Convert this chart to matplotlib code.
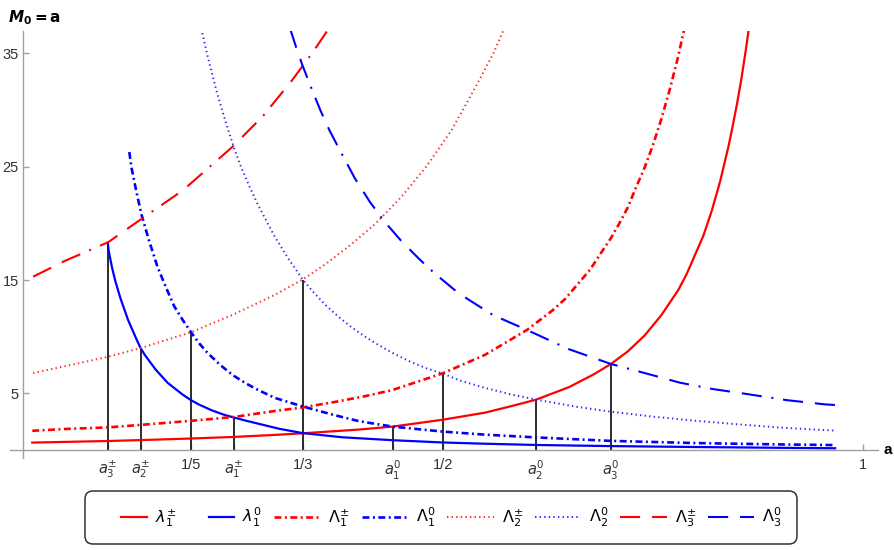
import matplotlib
matplotlib.use("Agg")
import matplotlib.pyplot as plt
from matplotlib.legend_handler import HandlerLine2D

plt.rcParams['font.family'] = ['Liberation Sans', 'DejaVu Sans']
plt.rcParams['mathtext.fontset'] = 'dejavusans'
plt.rcParams['lines.scale_dashes'] = False

# ---------------- data ----------------
# lambda_1^{+-}  (red solid)
lam1pm_a = [0.011, 0.05, 0.101, 0.14, 0.20, 0.251, 0.30, 0.333, 0.40, 0.44, 0.50, 0.55,
            0.58, 0.611, 0.65, 0.68, 0.70, 0.72, 0.74, 0.76, 0.78, 0.79, 0.80, 0.81, 0.82,
            0.83, 0.84, 0.845, 0.85, 0.855, 0.86, 0.865, 0.87]
lam1pm_v = [0.66, 0.72, 0.80, 0.88, 1.02, 1.16, 1.34, 1.48, 1.81, 2.07, 2.68, 3.3,
            3.85, 4.45, 5.55, 6.7, 7.6, 8.7, 10.1, 11.9, 14.1, 15.5, 17.2, 18.9, 21.1,
            23.7, 26.8, 28.6, 30.5, 32.6, 35.0, 37.6, 40.5]

# lambda_1^0  (blue solid)
lam10_a = [0.101, 0.102, 0.106, 0.11, 0.116, 0.125, 0.135, 0.14, 0.145, 0.158, 0.172, 0.19,
           0.20, 0.21, 0.225, 0.24, 0.251, 0.265, 0.28, 0.305, 0.333, 0.38, 0.44, 0.50,
           0.55, 0.611, 0.70, 0.80, 0.90, 0.967]
lam10_v = [18.3, 17.6, 16.1, 14.9, 13.4, 11.5, 9.8, 9.0, 8.4, 7.1, 5.95, 4.9,
           4.4, 4.0, 3.5, 3.1, 2.88, 2.6, 2.33, 1.88, 1.5, 1.13, 0.87, 0.67,
           0.56, 0.45, 0.35, 0.27, 0.2, 0.16]

# Lambda_1^{+-}  (red dash-dot)
Lam1pm_a = [0.011, 0.05, 0.101, 0.14, 0.20, 0.251, 0.30, 0.333, 0.37, 0.405, 0.44, 0.50,
            0.55, 0.60, 0.63, 0.645, 0.66, 0.675, 0.69, 0.70, 0.71, 0.72, 0.73, 0.74,
            0.75, 0.76, 0.77, 0.78, 0.79]
Lam1pm_v = [1.70, 1.86, 2.0, 2.22, 2.58, 2.92, 3.45, 3.76, 4.23, 4.72, 5.3, 6.78,
            8.4, 10.6, 12.3, 13.3, 14.6, 15.9, 17.6, 18.7, 20.0, 21.4, 23.2, 24.9,
            26.9, 29.2, 31.8, 34.7, 38.1]

# Lambda_1^0  (blue dash-dot)
Lam10_a = [0.1266, 0.129, 0.135, 0.141, 0.15, 0.16, 0.17, 0.18, 0.19, 0.20, 0.21, 0.22,
           0.235, 0.25, 0.265, 0.28, 0.30, 0.333, 0.37, 0.40, 0.44, 0.50, 0.55, 0.61,
           0.70, 0.80, 0.90, 0.967]
Lam10_v = [26.3, 25.0, 22.8, 20.8, 18.5, 16.2, 14.4, 12.7, 11.5, 10.4, 9.4, 8.55,
           7.5, 6.6, 5.9, 5.3, 4.6, 3.85, 3.1, 2.55, 2.07, 1.63, 1.36, 1.12,
           0.81, 0.62, 0.5, 0.44]

# Lambda_2^{+-}  (red dotted)
Lam2pm_a = [0.012, 0.05, 0.1016, 0.14, 0.20, 0.25, 0.30, 0.333, 0.36, 0.39, 0.42, 0.45,
            0.48, 0.51, 0.54, 0.56, 0.58]
Lam2pm_v = [6.8, 7.4, 8.24, 9.0, 10.4, 11.95, 13.7, 15.05, 16.4, 18.1, 20.0, 22.3,
            25.0, 28.2, 32.2, 35.0, 38.4]

# Lambda_2^0  (blue dotted)
Lam20_a = [0.2135, 0.22, 0.23, 0.237, 0.245, 0.252, 0.26, 0.27, 0.28, 0.29, 0.30, 0.315,
           0.333, 0.345, 0.36, 0.375, 0.39, 0.405, 0.42, 0.44, 0.46, 0.48, 0.50, 0.52,
           0.55, 0.58, 0.611, 0.66, 0.70, 0.75, 0.80, 0.85, 0.90, 0.965]
Lam20_v = [36.8, 34.7, 31.8, 30.0, 28.1, 26.5, 24.9, 23.2, 21.6, 20.2, 18.8, 17.0,
           15.05, 14.0, 12.81, 11.8, 10.91, 10.12, 9.41, 8.57, 7.84, 7.22, 6.75, 6.14,
           5.49, 4.93, 4.45, 3.81, 3.39, 2.95, 2.59, 2.28, 1.99, 1.72]

# Lambda_3^{+-}  (red long dash-dot)
Lam3pm_a = [0.012, 0.05, 0.1016, 0.143, 0.19, 0.25, 0.286, 0.32, 0.345, 0.365]
Lam3pm_v = [15.3, 16.7, 18.35, 20.5, 22.9, 26.8, 29.5, 32.6, 35.1, 37.3]

# Lambda_3^0  (blue long dash-dot)
Lam30_a = [0.318, 0.325, 0.332, 0.343, 0.354, 0.365, 0.377, 0.395, 0.413, 0.43, 0.451,
           0.4726, 0.49, 0.516, 0.53, 0.56, 0.60, 0.65, 0.70, 0.75, 0.782, 0.82, 0.8615,
           0.91, 0.955, 0.969]
Lam30_v = [37.2, 35.6, 34.1, 32.0, 30.0, 28.2, 26.5, 24.0, 21.9, 20.2, 18.4,
           16.8, 15.6, 14.0, 13.3, 11.9, 10.6, 8.9, 7.6, 6.6, 5.95, 5.4, 4.95,
           4.4, 4.03, 3.97]

# special abscissas, tick labels and heights of the black segments
special_a = [0.101, 0.1405, 0.2, 0.2512, 1 / 3, 0.4405, 0.5, 0.6107, 0.7]
special_top = [18.3, 9.0, 10.4, 2.9, 15.05, 2.07, 6.78, 4.45, 7.6]
xtick_pos = special_a + [1.0]
xtick_labels = [r'$a_3^{\pm}$', r'$a_2^{\pm}$', '1/5', r'$a_1^{\pm}$', '1/3',
                r'$a_1^{0}$', '1/2', r'$a_2^{0}$', r'$a_3^{0}$', '1']
ytick_pos = [5, 15, 25, 35]

legend_labels = [r'$\lambda_1^{\pm}$', r'$\lambda_1^{0}$', r'$\Lambda_1^{\pm}$', r'$\Lambda_1^{0}$',
                 r'$\Lambda_2^{\pm}$', r'$\Lambda_2^{0}$', r'$\Lambda_3^{\pm}$', r'$\Lambda_3^{0}$']

# ---------------- figure ----------------
RED = '#ff0000'
BLUE = '#0000ff'

fig = plt.figure(figsize=(8.95, 5.5), dpi=100)
ax = fig.add_axes([0.01162, 0.16727, 0.96938, 0.77673])
ax.set_xlim(-0.015, 1.018)
ax.set_ylim(-0.7, 37)

dashdot = (0, (5.0, 2.5, 1.4, 2.5))
dotted = (0, (1.0, 2.3))
longdd = (0, (14.5, 8.6, 14.5, 7.0, 1.5, 7.0))

ax.vlines(special_a, 0, special_top, colors='#1a1a1a', linewidth=1.3, zorder=2)

h = []
h += ax.plot(lam1pm_a, lam1pm_v, color=RED, lw=1.6, zorder=3)
h += ax.plot(lam10_a, lam10_v, color=BLUE, lw=1.6, zorder=3)
h += ax.plot(Lam1pm_a, Lam1pm_v, color=RED, lw=1.9, linestyle=dashdot, zorder=3)
h += ax.plot(Lam10_a, Lam10_v, color=BLUE, lw=1.9, linestyle=dashdot, zorder=3)
h += ax.plot(Lam2pm_a, Lam2pm_v, color='#ff2a2a', lw=1.4, linestyle=dotted, zorder=3)
h += ax.plot(Lam20_a, Lam20_v, color='#2a2aff', lw=1.4, linestyle=dotted, zorder=3)
h += ax.plot(Lam3pm_a, Lam3pm_v, color=RED, lw=1.5, linestyle=longdd, zorder=3)
h += ax.plot(Lam30_a, Lam30_v, color=BLUE, lw=1.5, linestyle=longdd, zorder=3)

# axes through origin, Mathematica style
for s in ['top', 'right']:
    ax.spines[s].set_visible(False)
ax.spines['left'].set_position(('data', 0))
ax.spines['bottom'].set_position(('data', 0))
for s in ['left', 'bottom']:
    ax.spines[s].set_color('#a0a0a0')
    ax.spines[s].set_linewidth(1.0)

ax.set_xticks(xtick_pos)
ax.set_xticklabels(xtick_labels)
ax.set_yticks(ytick_pos)
ax.set_yticklabels([str(v) for v in ytick_pos])
ax.tick_params(axis='both', direction='in', length=4, width=1.0, color='#a0a0a0',
               labelsize=10.5, labelcolor='#333333')
ax.tick_params(axis='x', pad=6)
ax.tick_params(axis='y', pad=3)

ax.text(1.024, 0, 'a', transform=ax.transData, ha='left', va='center',
        fontsize=11, fontweight='bold', clip_on=False)
fig.text(8 / 895, 1 - 18 / 550, r'$\mathbfit{M}_{\mathbf{0}}\mathbf{=a}$', ha='left',
         va='center', fontsize=11)


class ShortLine(HandlerLine2D):
    def create_artists(self, legend, orig_handle, xdescent, ydescent, width, height,
                       fontsize, trans):
        w = width * 0.55
        return super().create_artists(legend, orig_handle, xdescent - (width - w), ydescent,
                                      w, height, fontsize, trans)


leg = fig.legend(h, legend_labels, loc='center', bbox_to_anchor=(441 / 895, 1 - 517.5 / 550),
                 ncol=8, fontsize=11.5, frameon=True, fancybox=True, framealpha=1,
                 edgecolor='#333333', borderpad=0.95, handlelength=2.9, handletextpad=0.5,
                 columnspacing=0.75,
                 handler_map={h[0]: ShortLine(), h[1]: ShortLine()})
leg.get_frame().set_linewidth(1.1)
leg.get_frame().set_boxstyle('round,pad=0,rounding_size=0.5')

fig.savefig('out.png', dpi=100)
